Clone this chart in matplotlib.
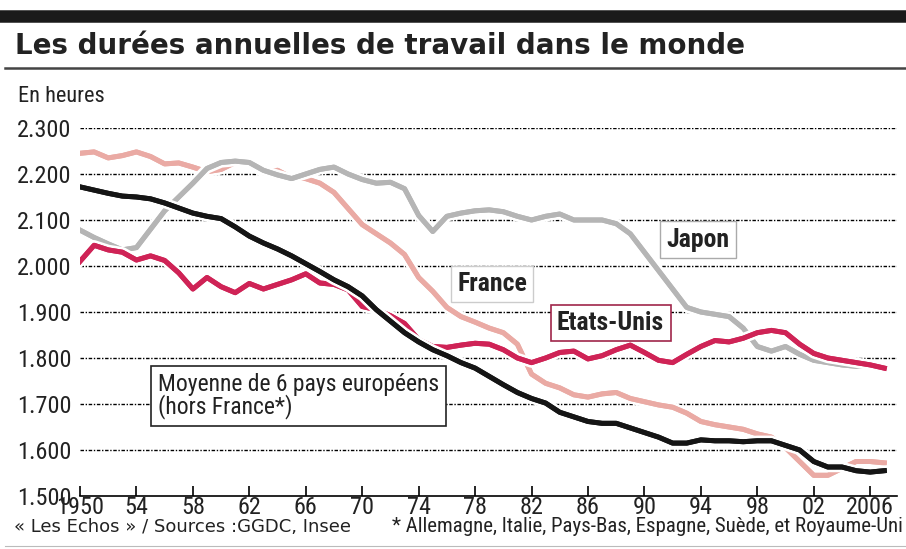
import numpy as np
import matplotlib
matplotlib.use("Agg")
import matplotlib.pyplot as plt
import matplotlib.patheffects as pe
from matplotlib.lines import Line2D
from matplotlib.ticker import FuncFormatter
from matplotlib import font_manager

years = list(range(1950, 2008))

# heures annuelles
europe6 = [2172, 2165, 2158, 2152, 2150, 2146, 2137, 2126, 2115, 2108,
           2103, 2085, 2065, 2050, 2037, 2022, 2005, 1988, 1970, 1955,
           1935, 1905, 1880, 1855, 1835, 1818, 1805, 1790, 1778, 1760,
           1742, 1725, 1712, 1702, 1682, 1672, 1662, 1658, 1658, 1648,
           1638, 1628, 1615, 1615, 1622, 1620, 1620, 1618, 1620, 1620,
           1610, 1600, 1575, 1563, 1563, 1555, 1552, 1555]
etats_unis = [2010, 2045, 2035, 2030, 2013, 2022, 2012, 1985, 1950, 1975,
              1955, 1942, 1962, 1950, 1960, 1970, 1983, 1963, 1960, 1948,
              1912, 1905, 1892, 1875, 1840, 1825, 1823, 1828, 1832, 1830,
              1818, 1800, 1790, 1800, 1812, 1815, 1798, 1805, 1818, 1828,
              1812, 1795, 1790, 1808, 1825, 1838, 1835, 1843, 1855, 1860,
              1855, 1830, 1810, 1800, 1795, 1790, 1785, 1778]
japon = [2078, 2062, 2048, 2035, 2040, 2080, 2120, 2150, 2180, 2212,
         2225, 2228, 2225, 2208, 2198, 2190, 2200, 2210, 2215, 2200,
         2188, 2180, 2182, 2168, 2110, 2075, 2108, 2115, 2120, 2122,
         2118, 2108, 2100, 2108, 2113, 2100, 2100, 2100, 2092, 2070,
         2030, 1990, 1950, 1910, 1900, 1895, 1890, 1865, 1825, 1815,
         1825, 1808, 1795, 1790, 1785, 1782, 1785, 1782]
france = [2245, 2248, 2235, 2240, 2248, 2238, 2222, 2224, 2215, 2205,
          2210, 2225, 2222, 2203, 2208, 2192, 2190, 2180, 2160, 2125,
          2090, 2070, 2050, 2025, 1975, 1945, 1910, 1890, 1878, 1865,
          1855, 1830, 1765, 1745, 1735, 1720, 1715, 1722, 1725, 1712,
          1705, 1698, 1693, 1680, 1662, 1655, 1650, 1645, 1635, 1628,
          1605, 1575, 1545, 1545, 1560, 1575, 1575, 1572]

yticks = [1500, 1600, 1700, 1800, 1900, 2000, 2100, 2200, 2300]
xticks = list(range(1950, 2007, 4))
xlabels = ["1950", "54", "58", "62", "66", "70", "74", "78", "82",
           "86", "90", "94", "98", "02", "2006"]

# police étroite : on prend la première disponible
installed = {f.name for f in font_manager.fontManager.ttflist}
narrow = "DejaVu Sans"
for name in ["Liberation Sans Narrow", "DejaVu Sans Condensed", "Roboto Condensed",
             "Roboto", "Liberation Sans"]:
    if name in installed:
        narrow = name
        break

fig = plt.figure(figsize=(9.06, 5.49), dpi=100)
ax = fig.add_axes([80 / 906, 1 - 496 / 549, 817 / 906, 368 / 549])

halo = [pe.withStroke(linewidth=7.5, foreground="white"), pe.Normal()]
ax.plot(years, france, color="#eaaaa4", lw=3.6, path_effects=halo, zorder=3)
ax.plot(years, japon, color="#b5b5b5", lw=3.6, path_effects=halo, zorder=4)
ax.plot(years, etats_unis, color="#cf2356", lw=3.6, path_effects=halo, zorder=5)
ax.plot(years, europe6, color="#151515", lw=3.6, path_effects=halo, zorder=6)

ax.set_xlim(1950, 2007.9)
ax.set_ylim(1500, 2300)
for v in yticks[1:]:
    ax.axhline(v, color="black", lw=1.0, dashes=(2.5, 1.2, 1, 1.2), zorder=1)

for s in ["top", "right", "left"]:
    ax.spines[s].set_visible(False)
ax.spines["bottom"].set_linewidth(1.2)
ax.set_yticks(yticks)
ax.yaxis.set_major_formatter(FuncFormatter(lambda v, p: f"{int(v):,}".replace(",", ".")))
ax.tick_params(axis="y", length=0, pad=6, labelsize=17.5)
ax.set_xticks(xticks)
ax.set_xticklabels(xlabels)
ax.tick_params(axis="x", direction="in", length=7, width=1.2, pad=0, labelsize=17.5)
for lab in ax.get_xticklabels() + ax.get_yticklabels():
    lab.set_fontfamily(narrow)
    lab.set_color("#222222")

# étiquettes des séries
ax.text(1993.8, 2057, "Japon", family=narrow, weight="bold", fontsize=18.5,
        ha="center", va="center", color="#222222", zorder=7,
        bbox=dict(boxstyle="square,pad=0.25", fc="white", ec="#aaaaaa", lw=1))
ax.text(1979.2, 1961, "France", family=narrow, weight="bold", fontsize=18.5,
        ha="center", va="center", color="#222222", zorder=7,
        bbox=dict(boxstyle="square,pad=0.25", fc="white", ec="#cccccc", lw=1))
ax.text(1987.6, 1876, "Etats-Unis", family=narrow, weight="bold", fontsize=18.5,
        ha="center", va="center", color="#222222", zorder=7,
        bbox=dict(boxstyle="square,pad=0.25", fc="white", ec="#a0264a", lw=1.2))
ax.text(1955.5, 1768, "Moyenne de 6 pays européens\n(hors France*)", family=narrow,
        fontsize=17, ha="left", va="top", color="#222222", linespacing=0.9, zorder=7,
        bbox=dict(boxstyle="square,pad=0.3", fc="white", ec="#222222", lw=1.2))

# en-tête et pied
fig.add_artist(Line2D([5 / 906, 1], [1 - 16 / 549] * 2, color="#1a1a1a", lw=9))
fig.add_artist(Line2D([5 / 906, 1], [1 - 68 / 549] * 2, color="#444444", lw=1.8))
fig.add_artist(Line2D([5 / 906, 1], [1 - 546 / 549] * 2, color="#bbbbbb", lw=0.8))
fig.text(15 / 906, 1 - 46 / 549, "Les durées annuelles de travail dans le monde",
         fontsize=20, weight="bold", family="DejaVu Sans", va="center", color="#222222")
fig.text(18 / 906, 1 - 97 / 549, "En heures", family=narrow, fontsize=16,
         va="center", color="#222222")
fig.text(14 / 906, 1 - 527 / 549, "« Les Echos » / Sources :GGDC, Insee",
         family="DejaVu Sans", fontsize=13, va="center", color="#222222")
fig.text(903 / 906, 1 - 527 / 549,
         "* Allemagne, Italie, Pays-Bas, Espagne, Suède, et Royaume-Uni",
         family=narrow, fontsize=15, ha="right", va="center", color="#222222")

fig.savefig("out.png", dpi=100, facecolor="white")
